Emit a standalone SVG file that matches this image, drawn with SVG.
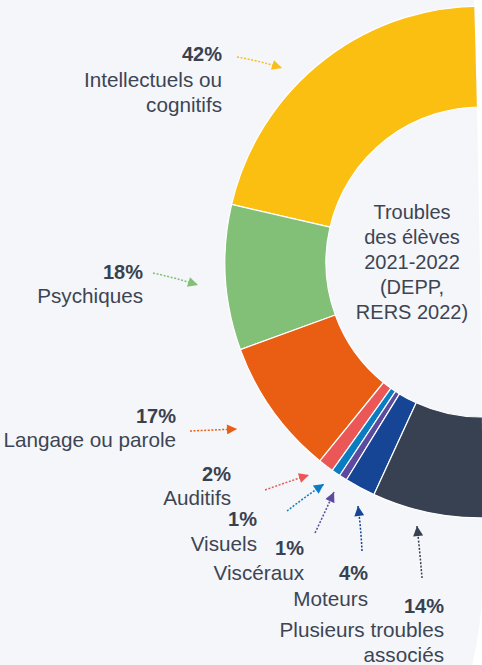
<svg xmlns="http://www.w3.org/2000/svg" width="482" height="665" viewBox="0 0 482 665">
<style>
text{font-family:"Liberation Sans",Arial,sans-serif;font-size:20px;fill:#3d4554}
.lbl{text-anchor:end;font-size:20.7px}
.pct{text-anchor:end;font-weight:bold;fill:#39414f}
.ctr{text-anchor:middle}
.seg{stroke:#ffffff;stroke-width:1.2;stroke-linejoin:round}
.con{fill:none;stroke-width:1.5;stroke-dasharray:2 1.6}
</style>
<defs>
<clipPath id="bgclip"><path d="M0,0 L474,0 C478,120 484,450 482,590 Q481,630 472,665 L0,665 Z"/></clipPath>
<marker id="mY" viewBox="0 0 10 10" refX="10" refY="5" markerWidth="11" markerHeight="10" markerUnits="userSpaceOnUse" orient="auto"><path d="M0,0 L10,5 L0,10 Z" fill="#f9be1a"/></marker>
<marker id="mG" viewBox="0 0 10 10" refX="10" refY="5" markerWidth="11" markerHeight="10" markerUnits="userSpaceOnUse" orient="auto"><path d="M0,0 L10,5 L0,10 Z" fill="#82c077"/></marker>
<marker id="mO" viewBox="0 0 10 10" refX="10" refY="5" markerWidth="11" markerHeight="10" markerUnits="userSpaceOnUse" orient="auto"><path d="M0,0 L10,5 L0,10 Z" fill="#ea5e14"/></marker>
<marker id="mR" viewBox="0 0 10 10" refX="10" refY="5" markerWidth="11" markerHeight="10" markerUnits="userSpaceOnUse" orient="auto"><path d="M0,0 L10,5 L0,10 Z" fill="#eb5757"/></marker>
<marker id="mB" viewBox="0 0 10 10" refX="10" refY="5" markerWidth="11" markerHeight="10" markerUnits="userSpaceOnUse" orient="auto"><path d="M0,0 L10,5 L0,10 Z" fill="#0a7dc2"/></marker>
<marker id="mP" viewBox="0 0 10 10" refX="10" refY="5" markerWidth="11" markerHeight="10" markerUnits="userSpaceOnUse" orient="auto"><path d="M0,0 L10,5 L0,10 Z" fill="#5b4a9e"/></marker>
<marker id="mN" viewBox="0 0 10 10" refX="10" refY="5" markerWidth="11" markerHeight="10" markerUnits="userSpaceOnUse" orient="auto"><path d="M0,0 L10,5 L0,10 Z" fill="#154594"/></marker>
<marker id="mD" viewBox="0 0 10 10" refX="10" refY="5" markerWidth="11" markerHeight="10" markerUnits="userSpaceOnUse" orient="auto"><path d="M0,0 L10,5 L0,10 Z" fill="#374151"/></marker>
</defs>
<rect width="482" height="665" fill="#ffffff"/>
<path d="M0,0 L474,0 C478,120 484,450 482,590 Q481,630 472,665 L0,665 Z" fill="#f4f6fa"/>
<g clip-path="url(#bgclip)">
<g id="intellectuels"><path class="seg" fill="#fbbf12" d="M489.9,6.2 A256,256 0 0 0 231.6,204.4 L330.0,227.1 A155,155 0 0 1 486.4,107.1 Z"/></g>
<g id="psychiques"><path class="seg" fill="#82c077" d="M231.6,204.4 A256,256 0 0 0 240.4,349.6 L335.3,315.0 A155,155 0 0 1 330.0,227.1 Z"/></g>
<g id="langage"><path class="seg" fill="#ea5e14" d="M240.4,349.6 A256,256 0 0 0 319.9,460.9 L383.5,382.5 A155,155 0 0 1 335.3,315.0 Z"/></g>
<g id="auditifs"><path class="seg" fill="#eb5757" d="M319.9,460.9 A256,256 0 0 0 332.3,470.4 L391.0,388.2 A155,155 0 0 1 383.5,382.5 Z"/></g>
<g id="visuels"><path class="seg" fill="#0a7dc2" d="M332.3,470.4 A256,256 0 0 0 339.7,475.5 L395.5,391.3 A155,155 0 0 1 391.0,388.2 Z"/></g>
<g id="visceraux"><path class="seg" fill="#5b4a9e" d="M339.7,475.5 A256,256 0 0 0 346.5,479.8 L399.5,393.9 A155,155 0 0 1 395.5,391.3 Z"/></g>
<g id="moteurs"><path class="seg" fill="#154594" d="M346.5,479.8 A256,256 0 0 0 374.0,494.6 L416.2,402.8 A155,155 0 0 1 399.5,393.9 Z"/></g>
<g id="plusieurs"><path class="seg" fill="#374151" d="M374.0,494.6 A256,256 0 0 0 489.9,517.8 L486.4,416.9 A155,155 0 0 1 416.2,402.8 Z"/></g>
</g>
<g id="centre">
<text class="ctr" x="412" y="219">Troubles</text>
<text class="ctr" x="412" y="244">des élèves</text>
<text class="ctr" x="412" y="269">2021-2022</text>
<text class="ctr" x="412" y="294">(DEPP,</text>
<text class="ctr" x="412" y="319">RERS 2022)</text>
</g>
<g id="label-intellectuels"><text class="pct" x="222" y="61">42%</text><text class="lbl" x="222" y="87">Intellectuels ou</text><text class="lbl" x="222" y="112">cognitifs</text></g>
<g id="label-psychiques"><text class="pct" x="143" y="279">18%</text><text class="lbl" x="143" y="303">Psychiques</text></g>
<g id="label-langage"><text class="pct" x="176" y="423">17%</text><text class="lbl" x="176" y="447">Langage ou parole</text></g>
<g id="label-auditifs"><text class="pct" x="231" y="481">2%</text><text class="lbl" x="231" y="505">Auditifs</text></g>
<g id="label-visuels"><text class="pct" x="257" y="526">1%</text><text class="lbl" x="257" y="551">Visuels</text></g>
<g id="label-visceraux"><text class="pct" x="304" y="555">1%</text><text class="lbl" x="304" y="580">Viscéraux</text></g>
<g id="label-moteurs"><text class="pct" x="368" y="580">4%</text><text class="lbl" x="368" y="606">Moteurs</text></g>
<g id="label-plusieurs"><text class="pct" x="444" y="613">14%</text><text class="lbl" x="444" y="637">Plusieurs troubles</text><text class="lbl" x="444" y="662">associés</text></g>
<g id="connectors">
<path class="con" stroke="#f9be1a" marker-end="url(#mY)" d="M237,57 Q260,61 282,68"/>
<path class="con" stroke="#82c077" marker-end="url(#mG)" d="M153,273 Q176,278 198,285"/>
<path class="con" stroke="#ea5e14" marker-end="url(#mO)" d="M190,431 Q213,430 237,429"/>
<path class="con" stroke="#eb5757" marker-end="url(#mR)" d="M265,490 Q287,482 309,475"/>
<path class="con" stroke="#0a7dc2" marker-end="url(#mB)" d="M287,511 Q305,497 324,484"/>
<path class="con" stroke="#5b4a9e" marker-end="url(#mP)" d="M315,533 Q325,512 334,492"/>
<path class="con" stroke="#154594" marker-end="url(#mN)" d="M362,551 Q361,529 358,506"/>
<path class="con" stroke="#374151" marker-end="url(#mD)" d="M422,578 Q420,553 417,526"/>
</g>
</svg>
